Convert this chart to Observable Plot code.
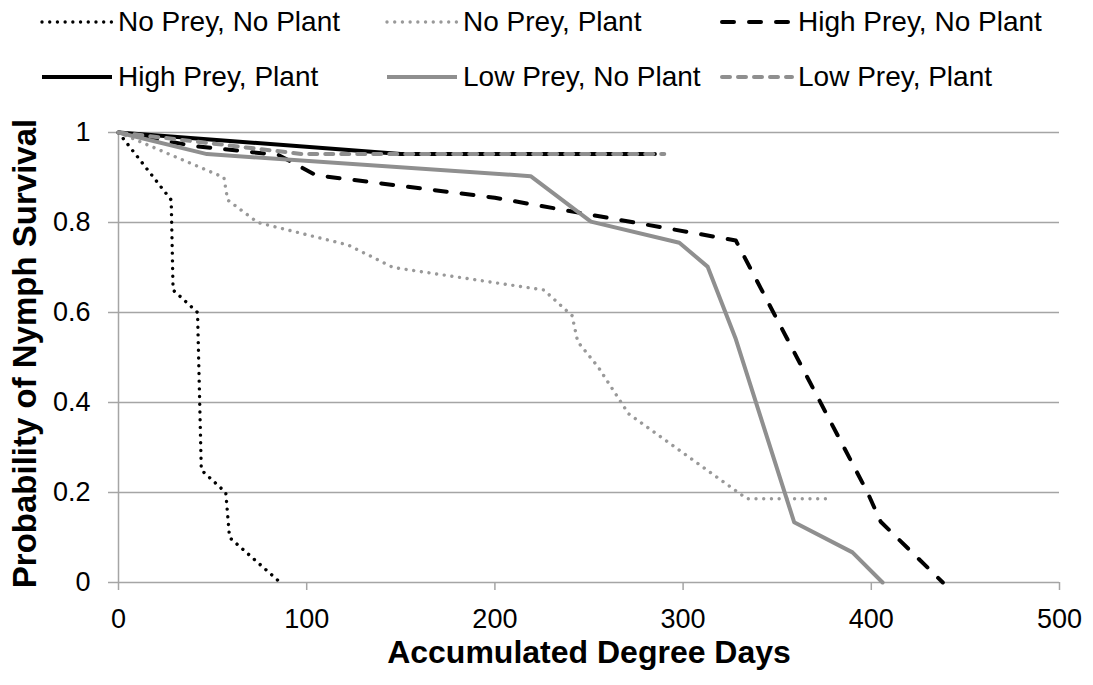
<!DOCTYPE html>
<html><head><meta charset="utf-8">
<script src="https://cdn.jsdelivr.net/npm/d3@7"></script>
<script src="https://cdn.jsdelivr.net/npm/@observablehq/plot@0.6"></script>
<style>
body{margin:0;background:#fff;font-family:"Liberation Sans",Arial,sans-serif;}
#legend{position:relative;width:1093px;height:110px;}
.item{position:absolute;display:flex;align-items:center;font-size:28px;color:#000;white-space:nowrap;height:30px;}
.item svg{margin-right:4px;display:block;}
</style></head><body>
<div id="legend"></div>
<div id="chart"></div>
<script>
// ---- data ----
const seriesNames = ["No Prey, No Plant","No Prey, Plant","High Prey, No Plant","High Prey, Plant","Low Prey, No Plant","Low Prey, Plant"];
const npnpX = [0,28,29,42,44,57,59,86];
const npnpY = [1,0.85,0.65,0.6,0.25,0.2,0.1,0];
const nppX = [0,56,58,74,122,146,226,241,244,255,271,334,377];
const nppY = [1,0.9,0.85,0.8,0.75,0.7,0.65,0.593,0.535,0.478,0.375,0.186,0.186];
const hpnpX = [0,40,85,105,200,328,398,405,438];
const hpnpY = [1,0.97,0.95,0.905,0.855,0.76,0.2,0.135,0];
const hppX = [0,150,285];
const hppY = [1,0.952,0.952];
const lpnpX = [0,47,219,251,298,313,328,359,390,406];
const lpnpY = [1,0.952,0.903,0.802,0.755,0.702,0.541,0.134,0.067,0];
const lppX = [0,98,290];
const lppY = [1,0.952,0.952];
const xTicks = [0,100,200,300,400,500];
const yTicks = [0,0.2,0.4,0.6,0.8,1];

const gridColor = "#a5a5a5";
const gray = "#8f8f8f";
const styles = [
  {stroke:"#000", strokeWidth:3.4, strokeDasharray:"0.01 7.7", strokeLinecap:"round"},
  {stroke:"#999", strokeWidth:3.4, strokeDasharray:"0.01 7.7", strokeLinecap:"round"},
  {stroke:"#000", strokeWidth:4, strokeDasharray:"12 15", strokeLinecap:"round"},
  {stroke:"#000", strokeWidth:4},
  {stroke:gray, strokeWidth:4},
  {stroke:gray, strokeWidth:4, strokeDasharray:"8 8", strokeLinecap:"round"}
];
const xs = [npnpX,nppX,hpnpX,hppX,lpnpX,lppX];
const ys = [npnpY,nppY,hpnpY,hppY,lpnpY,lppY];

// ---- legend ----
const legendPos = [[40,22],[385,22],[720,22],[40,77],[385,77],[720,77]];
const legend = document.getElementById("legend");
seriesNames.forEach((name,i)=>{
  const s = styles[i];
  const div = document.createElement("div");
  div.className = "item";
  div.style.left = legendPos[i][0]+"px";
  div.style.top = (legendPos[i][1]-15)+"px";
  div.innerHTML = `<svg width="74" height="12"><line x1="2" x2="72" y1="6" y2="6" stroke="${s.stroke}" stroke-width="${s.strokeWidth}" ${s.strokeDasharray?`stroke-dasharray="${s.strokeDasharray}"`:""} ${s.strokeLinecap?`stroke-linecap="${s.strokeLinecap}"`:""}/></svg><span>${name}</span>`;
  legend.appendChild(div);
});

// ---- chart ----
const lineMarks = seriesNames.map((name,i)=>{
  const data = xs[i].map((x,j)=>({x, y: ys[i][j]}));
  return Plot.line(data, {x:"x", y:"y", ...styles[i]});
});

const chart = Plot.plot({
  width:1093, height:575,
  marginLeft:118, marginRight:34, marginTop:22, marginBottom:103,
  x:{domain:[0,500]}, y:{domain:[0,1]},
  style:{fontFamily:"'Liberation Sans', Arial, sans-serif", fontSize:"27px", color:"#000", background:"#fff", overflow:"visible"},
  marks:[
    Plot.ruleY(yTicks, {stroke:gridColor, strokeWidth:1.5}),
    Plot.ruleX([0], {stroke:gridColor, strokeWidth:1.5}),
    Plot.axisY({ticks:yTicks, tickSize:10, tickPadding:18, tickFormat:d=>String(d), stroke:gridColor, strokeWidth:1.5, fill:"#000", label:null, fontSize:27}),
    Plot.axisX({ticks:xTicks, tickSize:8, tickPadding:18, tickFormat:d=>String(d), stroke:gridColor, strokeWidth:1.5, fill:"#000", label:null, fontSize:27}),
    ...lineMarks,
    Plot.text(["Accumulated Degree Days"], {text:d=>d, frameAnchor:"bottom", lineAnchor:"middle", textAnchor:"middle", dy:70, fontWeight:"bold", fontSize:32}),
    Plot.text(["Probability of Nymph Survival"], {text:d=>d, frameAnchor:"left", lineAnchor:"middle", textAnchor:"middle", dx:-93, dy:-4, rotate:-90, fontWeight:"bold", fontSize:33})
  ]
});
document.getElementById("chart").appendChild(chart);
</script>
</body></html>
